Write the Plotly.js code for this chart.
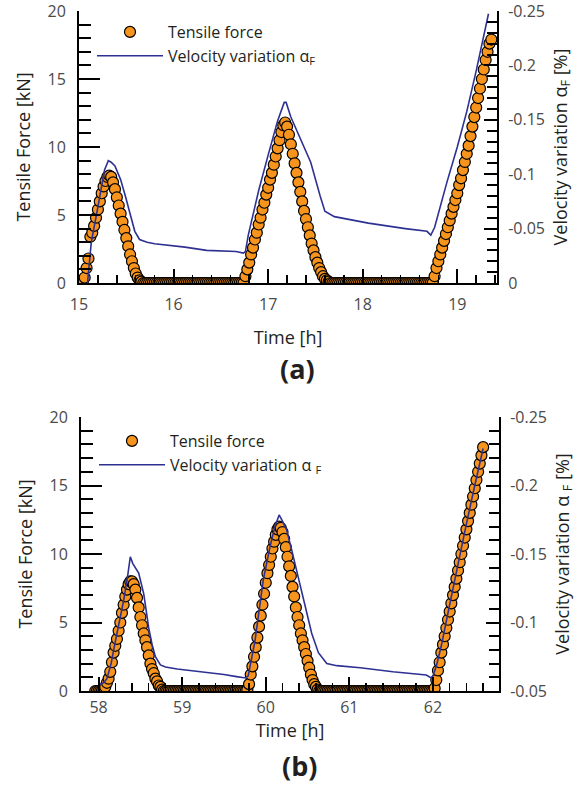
<!DOCTYPE html>
<html>
<head>
<meta charset="utf-8">
<script src="https://cdn.plot.ly/plotly-3.0.1.min.js"></script>
<style>
html,body{margin:0;padding:0;background:#fff;}
#chart{width:577px;height:788px;}
</style>
</head>
<body>
<div id="chart"></div>
<script>
// ---------- Panel (a): tensile force (kN), sampled every 0.02 h ----------
const topForceTime = [
15.04,15.06,15.08,15.10,15.12,15.14,15.16,15.18,15.20,15.22,15.24,15.26,15.28,15.30,15.32,15.34,15.36,15.38,15.40,15.42,15.44,15.46,15.48,15.50,15.52,15.54,15.56,15.58,15.60,15.62,15.64,15.66,
15.68,15.70,15.72,15.74,15.76,15.78,15.80,15.82,15.84,15.86,15.88,15.90,15.92,15.94,15.96,15.98,16.00,16.02,16.04,16.06,16.08,16.10,16.12,16.14,16.16,16.18,16.20,16.22,16.24,16.26,16.28,16.30,16.32,16.34,16.36,16.38,16.40,16.42,16.44,16.46,16.48,16.50,16.52,16.54,16.56,16.58,16.60,16.62,16.64,16.66,16.68,16.70,16.72,16.74,
16.76,16.78,16.80,16.82,16.84,16.86,16.88,16.90,16.92,16.94,16.96,16.98,17.00,17.02,17.04,17.06,17.08,17.10,17.12,17.14,17.16,17.18,17.20,17.22,17.24,17.26,17.28,17.30,17.32,17.34,17.36,17.38,17.40,17.42,17.44,17.46,17.48,17.50,17.52,17.54,17.56,17.58,17.60,17.62,17.64,
17.66,17.68,17.70,17.72,17.74,17.76,17.78,17.80,17.82,17.84,17.86,17.88,17.90,17.92,17.94,17.96,17.98,18.00,18.02,18.04,18.06,18.08,18.10,18.12,18.14,18.16,18.18,18.20,18.22,18.24,18.26,18.28,18.30,18.32,18.34,18.36,18.38,18.40,18.42,18.44,18.46,18.48,18.50,18.52,18.54,18.56,18.58,18.60,18.62,18.64,18.66,18.68,18.70,18.72,18.74,
18.76,18.78,18.80,18.82,18.84,18.86,18.88,18.90,18.92,18.94,18.96,18.98,19.00,19.02,19.04,19.06,19.08,19.10,19.12,19.14,19.16,19.18,19.20,19.22,19.24,19.26,19.28,19.30,19.32,19.34,19.36
];
const topForceKN = [
0,0.4,1.1,1.8,3.4,3.7,4.2,4.8,5.4,6.0,6.6,7.1,7.5,7.8,7.9,7.8,7.4,6.9,6.3,5.7,5.1,4.5,3.9,3.3,2.7,2.1,1.6,1.1,0.7,0.4,0.2,0.1,
0,0,0,0,0,0,0,0,0,0,
0,0,0,0,0,0,0,0,0,0,
0,0,0,0,0,0,0,0,0,0,
0,0,0,0,0,0,0,0,0,0,
0,0,0,0,0,0,0,0,0,0,
0,0,0,0,
0.5,1.0,1.5,2.1,2.6,3.2,3.7,4.3,4.8,5.4,5.9,6.5,7.0,7.6,8.1,8.7,9.3,9.9,10.5,11.1,11.6,11.8,11.5,10.9,10.2,9.5,8.8,8.1,7.4,6.7,6.0,5.3,4.7,4.1,3.5,2.9,2.4,1.9,1.5,1.1,0.8,0.5,0.3,0.2,0.1,
0,0,0,0,0,0,0,0,0,0,
0,0,0,0,0,0,0,0,0,0,
0,0,0,0,0,0,0,0,0,0,
0,0,0,0,0,0,0,0,0,0,
0,0,0,0,0,0,0,0,0,0,
0,0,0,0,0,
0.5,1.1,1.6,2.1,2.6,3.1,3.6,4.1,4.6,5.1,5.6,6.1,6.6,7.2,7.7,8.3,8.9,9.5,10.1,10.8,11.5,12.2,12.9,13.6,14.3,15.0,15.7,16.4,17.0,17.6,17.9
];
// Panel (a): velocity variation alpha_F (%)
const topVelTime = [15.09,15.11,15.13,15.20,15.27,15.31,15.34,15.38,15.44,15.49,15.54,15.59,15.64,15.72,15.80,16.12,16.35,16.66,16.74,16.76,16.79,16.90,17.00,17.10,17.17,17.19,17.24,17.34,17.45,17.55,17.60,17.70,18.06,18.45,18.68,18.72,18.76,18.89,19.00,19.10,19.20,19.33];
const topVelPct = [0,-0.019,-0.0375,-0.07,-0.104,-0.1125,-0.111,-0.1075,-0.095,-0.08,-0.0625,-0.0475,-0.04,-0.0375,-0.036,-0.033,-0.03,-0.029,-0.0275,-0.029,-0.044,-0.085,-0.1175,-0.149,-0.166,-0.166,-0.1525,-0.1325,-0.111,-0.08,-0.066,-0.061,-0.055,-0.05,-0.0475,-0.044,-0.051,-0.0925,-0.125,-0.1575,-0.195,-0.2475];

// ---------- Panel (b): tensile force (kN), sampled every 0.02 h ----------
const botForceTime = [
57.96,57.98,58.00,58.02,58.04,58.06,58.08,58.10,58.12,58.14,58.16,58.18,58.20,58.22,58.24,58.26,58.28,58.30,58.32,58.34,58.36,58.38,58.40,58.42,58.44,58.46,58.48,58.50,58.52,58.54,58.56,58.58,58.60,58.62,58.64,58.66,58.68,58.70,58.72,58.74,58.76,
58.78,58.80,58.82,58.84,58.86,58.88,58.90,58.92,58.94,58.96,58.98,59.00,59.02,59.04,59.06,59.08,59.10,59.12,59.14,59.16,59.18,59.20,59.22,59.24,59.26,59.28,59.30,59.32,59.34,59.36,59.38,59.40,59.42,59.44,59.46,59.48,59.50,59.52,59.54,59.56,59.58,59.60,59.62,59.64,59.66,59.68,59.70,59.72,59.74,59.76,
59.78,59.80,59.82,59.84,59.86,59.88,59.90,59.92,59.94,59.96,59.98,60.00,60.02,60.04,60.06,60.08,60.10,60.12,60.14,60.16,60.18,60.20,60.22,60.24,60.26,60.28,60.30,60.32,60.34,60.36,60.38,60.40,60.42,60.44,60.46,60.48,60.50,60.52,60.54,60.56,60.58,60.60,60.62,
60.64,60.66,60.68,60.70,60.72,60.74,60.76,60.78,60.80,60.82,60.84,60.86,60.88,60.90,60.92,60.94,60.96,60.98,61.00,61.02,61.04,61.06,61.08,61.10,61.12,61.14,61.16,61.18,61.20,61.22,61.24,61.26,61.28,61.30,61.32,61.34,61.36,61.38,61.40,61.42,61.44,61.46,61.48,61.50,61.52,61.54,61.56,61.58,61.60,61.62,61.64,61.66,61.68,61.70,61.72,61.74,61.76,61.78,61.80,61.82,61.84,61.86,61.88,61.90,61.92,61.94,61.96,61.98,62.00,
62.02,62.04,62.06,62.08,62.10,62.12,62.14,62.16,62.18,62.20,62.22,62.24,62.26,62.28,62.30,62.32,62.34,62.36,62.38,62.40,62.42,62.44,62.46,62.48,62.50,62.52,62.54,62.56,62.58,62.60
];
const botForceKN = [
0,0,0,0,0,0.1,0.3,0.6,0.9,1.4,2.1,2.8,3.3,3.8,4.4,5.0,5.7,6.3,6.9,7.4,7.8,8.0,8.0,7.8,7.4,6.8,6.1,5.4,4.8,4.2,3.7,3.2,2.6,2.0,1.6,1.3,0.9,0.7,0.4,0.3,0.1,
0,0,0,0,0,0,0,0,0,0,
0,0,0,0,0,0,0,0,0,0,
0,0,0,0,0,0,0,0,0,0,
0,0,0,0,0,0,0,0,0,0,
0,0,0,0,0,0,0,0,0,0,
0.1,0.5,1.2,1.8,2.5,3.2,3.9,4.7,5.5,6.3,7.1,7.9,8.6,9.2,9.8,10.4,10.9,11.4,11.8,12.0,11.9,11.6,11.1,10.5,9.8,9.1,8.4,7.6,6.9,6.1,5.4,4.8,4.2,3.7,3.2,2.7,2.2,1.7,1.2,0.8,0.5,0.3,0.1,
0,0,0,0,0,0,0,0,0,0,
0,0,0,0,0,0,0,0,0,0,
0,0,0,0,0,0,0,0,0,0,
0,0,0,0,0,0,0,0,0,0,
0,0,0,0,0,0,0,0,0,0,
0,0,0,0,0,0,0,0,0,0,
0,0,0,0,0,0,0,0,0,
0.2,0.8,1.5,2.1,2.8,3.4,4.0,4.6,5.2,5.8,6.4,7.0,7.6,8.2,8.8,9.4,10.0,10.6,11.2,11.8,12.4,13.0,13.6,14.2,14.8,15.4,16.0,16.6,17.2,17.8
];
// Panel (b): velocity variation alpha_F (%)
const botVelTime = [58.01,58.06,58.10,58.15,58.20,58.25,58.30,58.35,58.38,58.41,58.48,58.54,58.60,58.64,58.68,58.74,58.80,58.94,59.10,59.33,59.50,59.65,59.76,59.79,59.83,59.87,59.97,60.05,60.11,60.16,60.20,60.25,60.31,60.38,60.45,60.55,60.63,60.73,60.85,61.13,61.52,61.92,61.98,62.00,62.04,62.10,62.20,62.30,62.40,62.50,62.60];
const botVelPct = [-0.0545,-0.056,-0.059,-0.07,-0.086,-0.1,-0.116,-0.135,-0.148,-0.143,-0.136,-0.121,-0.096,-0.084,-0.075,-0.069,-0.0675,-0.066,-0.065,-0.0635,-0.062,-0.0605,-0.0595,-0.061,-0.073,-0.086,-0.131,-0.155,-0.17,-0.1785,-0.174,-0.1675,-0.153,-0.135,-0.116,-0.092,-0.078,-0.07,-0.0685,-0.067,-0.064,-0.0617,-0.0595,-0.061,-0.068,-0.083,-0.113,-0.143,-0.172,-0.2,-0.227];

// ---------- Tick labels ----------
const forceTickVals = [0,5,10,15,20];
const forceTickText = ['0','5','10','15','20'];
const topVelTickVals = [-0.25,-0.2,-0.15,-0.1,-0.05,0];
const topVelTickText = ['-0.25','-0.2','-0.15','-0.1','-0.05','0'];
const botVelTickVals = [-0.25,-0.2,-0.15,-0.1,-0.05];
const botVelTickText = ['-0.25','-0.2','-0.15','-0.1','-0.05'];

// ---------- Styling ----------
const W = 577, H = 788;
const FONT = '"Open Sans", "Noto Sans", sans-serif';
const INK = '#231f20';
const TICKC = '#4a4a4a';
const ORANGE = '#f7941d';
const BLUE = '#2e3192';

const markerStyle = {symbol:'circle', size:11, color:ORANGE, line:{color:'#000', width:1.2}};
const lineStyle = {color:BLUE, width:1.6};

function px2x(p){ return p / W; }
function py2y(p){ return 1 - p / H; }

function xAxis(domain, anchor, range, tick0, labelGap, titleGap){
  return {
    domain, anchor, range, tickmode:'linear', tick0, dtick:1,
    ticks:'inside', ticklen:14, tickwidth:2, tickcolor:'#000',
    minor:{tickmode:'linear', tick0, dtick:0.2, ticks:'inside', ticklen:8, tickwidth:1.5, tickcolor:'#000', showgrid:false},
    showline:true, linewidth:2, linecolor:'#000', showgrid:false, zeroline:false,
    tickfont:{family:FONT, size:16, color:TICKC}, ticklabelstandoff:labelGap, ticklabeloverflow:'allow',
    title:{text:'Time [h]', font:{family:FONT, size:18, color:INK}, standoff:titleGap},
    automargin:false, fixedrange:true
  };
}
function yLeft(domain, anchor){
  return {
    domain, anchor, range:[0,20], tickmode:'array', tickvals:forceTickVals, ticktext:forceTickText,
    ticks:'inside', ticklen:21, tickwidth:2, tickcolor:'#000',
    minor:{tickmode:'linear', tick0:0, dtick:1, ticks:'inside', ticklen:12, tickwidth:2, tickcolor:'#000', showgrid:false},
    showline:true, linewidth:2, linecolor:'#000', showgrid:false, zeroline:false,
    tickfont:{family:FONT, size:16, color:TICKC}, ticklabelstandoff:8, ticklabeloverflow:'allow',
    title:{text:'Tensile Force [kN]', font:{family:FONT, size:18, color:INK}, standoff:12},
    automargin:false, fixedrange:true
  };
}
function yRight(overlay, anchor, range, vals, text, titleText){
  return {
    overlaying:overlay, anchor, side:'right', range, tickmode:'array', tickvals:vals, ticktext:text,
    ticks:'inside', ticklen:13, tickwidth:2, tickcolor:'#000',
    minor:{tickmode:'linear', tick0:0, dtick:0.01, ticks:'inside', ticklen:10, tickwidth:2, tickcolor:'#000', showgrid:false},
    showline:true, linewidth:2, linecolor:'#000', showgrid:false, zeroline:false,
    tickfont:{family:FONT, size:16, color:TICKC}, ticklabelstandoff:6, ticklabeloverflow:'allow',
    title:{text:titleText, font:{family:FONT, size:18, color:INK}, standoff:10},
    automargin:false, fixedrange:true
  };
}

const data = [
  {x:topForceTime, y:topForceKN, xaxis:'x', yaxis:'y', type:'scatter', mode:'markers', name:'Tensile force', marker:markerStyle, legend:'legend', cliponaxis:true},
  {x:topVelTime, y:topVelPct, xaxis:'x', yaxis:'y2', type:'scatter', mode:'lines', name:'Velocity variation α<sub>F</sub>', line:lineStyle, legend:'legend'},
  {x:botForceTime, y:botForceKN, xaxis:'x2', yaxis:'y3', type:'scatter', mode:'markers', name:'Tensile force', marker:markerStyle, legend:'legend2', cliponaxis:true},
  {x:botVelTime, y:botVelPct, xaxis:'x2', yaxis:'y4', type:'scatter', mode:'lines', name:'Velocity variation α <sub>F</sub>', line:lineStyle, legend:'legend2'}
];

const legendBase = {xanchor:'left', yanchor:'top', font:{family:FONT, size:16, color:INK}, itemwidth:66, bgcolor:'rgba(0,0,0,0)', borderwidth:0, tracegroupgap:0};

const layout = {
  width:W, height:H, margin:{l:0, r:0, t:0, b:0},
  paper_bgcolor:'#fff', plot_bgcolor:'rgba(0,0,0,0)',
  font:{family:FONT, color:INK},
  showlegend:true,
  xaxis: xAxis([px2x(79), px2x(497)], 'y', [15, 19.42], 15, 6, 17),
  yaxis: yLeft([py2y(283), py2y(11)], 'x'),
  yaxis2: yRight('y', 'x', [0, -0.25], topVelTickVals, topVelTickText, 'Velocity variation α<sub>F</sub> [%]'),
  xaxis2: xAxis([px2x(81), px2x(499)], 'y3', [57.79, 62.79], 58, 1, 7),
  yaxis3: yLeft([py2y(691), py2y(417)], 'x2'),
  yaxis4: yRight('y3', 'x2', [-0.05, -0.25], botVelTickVals, botVelTickText, 'Velocity variation α <sub>F</sub> [%]'),
  legend: Object.assign({}, legendBase, {x:px2x(92), y:py2y(15)}),
  legend2: Object.assign({}, legendBase, {x:px2x(94), y:py2y(424)}),
  annotations:[
    {text:'<b>(a)</b>', xref:'paper', yref:'paper', x:px2x(297), y:py2y(368), xanchor:'center', yanchor:'middle', showarrow:false, font:{family:FONT, size:27, color:INK}},
    {text:'<b>(b)</b>', xref:'paper', yref:'paper', x:px2x(299), y:py2y(765), xanchor:'center', yanchor:'middle', showarrow:false, font:{family:FONT, size:27, color:INK}}
  ]
};

Plotly.newPlot('chart', data, layout, {displayModeBar:false, staticPlot:true});
</script>
</body>
</html>
